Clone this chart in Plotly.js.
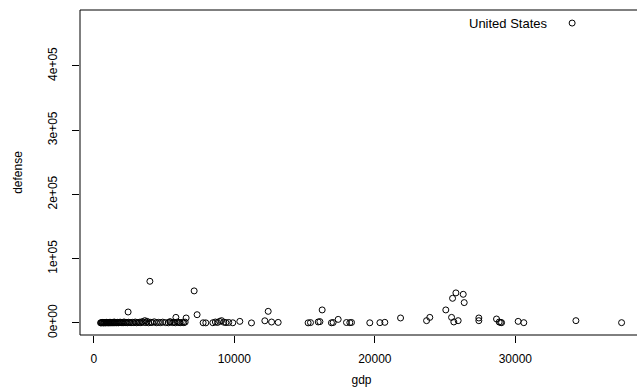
<!DOCTYPE html>
<html>
<head>
<meta charset="utf-8">
<script src="https://cdn.plot.ly/plotly-3.0.1.min.js"></script>
<style>
html,body{margin:0;padding:0;overflow:hidden;background:#fff;}
#chart{width:660px;height:388px;}
</style>
</head>
<body>
<div id="chart"></div>
<script>
// gdp per capita and defense spending
const gdp = [
  480,520,560,600,640,690,720,760,800,850,880,920,960,1010,1060,1100,1150,1200,1250,1300,
  1350,1400,1450,1500,1560,1620,1680,1740,1800,1870,1940,2000,2080,2150,2230,2300,2380,2460,2550,2650,2750,
  2440,3630,3990,7140,7350,5840,6570,5410,
  2850,2950,3050,3150,3250,3350,3450,3550,3700,3800,3900,4050,4150,4300,4450,4600,4750,4900,5100,5300,5450,
  5600,5700,5800,5950,6050,6150,6300,6400,6500,
  7780,7970,8470,8650,8800,8950,9090,9250,9400,9600,9890,10390,11220,12170,12410,12650,13120,
  15250,15420,15970,16090,16250,16910,17030,17390,17980,18220,18340,19640,20360,20710,21830,
  23680,23910,25050,25530,25770,26290,26360,25460,25620,25930,
  27400,27400,28660,28850,28950,29020,30200,30600,34310,37560,
  34040
];
const defense = [
  300,150,600,250,900,400,100,700,350,200,1100,500,300,800,150,450,1200,300,600,200,
  900,400,1500,250,700,350,1000,200,600,1300,400,800,300,1600,500,900,300,1200,700,400,1000,
  17100,3600,64850,49900,12900,8700,7800,2000,
  500,1500,300,800,1200,400,2200,900,600,2500,300,1100,700,1800,400,1000,500,1300,600,300,1500,
  600,1200,300,1500,800,400,1000,500,1300,
  300,200,400,1500,800,2500,3600,1200,600,800,300,2500,100,3400,18100,1500,900,
  200,600,1600,2100,20300,300,700,5600,700,500,800,300,500,1000,7800,
  3600,8700,20300,38400,46800,44600,31700,8700,1600,3600,
  7800,3600,6200,1500,800,500,2500,500,3600,500,
  466600
];
const labelName = "United States";
const labelIndex = gdp.length - 1;
const xTicks = [0, 10000, 20000, 30000];
const xTickText = ["0", "10000", "20000", "30000"];
const yTicks = [0, 100000, 200000, 300000, 400000];
const yTickText = ["0e+00", "1e+05", "2e+05", "3e+05", "4e+05"];

const font = {family: "Liberation Sans, Arial, Helvetica, sans-serif", size: 12, color: "#000"};
const labelFont = {family: "Liberation Sans, Arial, Helvetica, sans-serif", size: 13, color: "#000"};

const trace = {
  x: gdp, y: defense, type: "scatter", mode: "markers",
  marker: {symbol: "circle-open", size: 6, color: "#000", line: {width: 1, color: "#000"}},
  hoverinfo: "x+y"
};

const layout = {
  width: 660, height: 388,
  margin: {l: 80, r: 17, t: 10, b: 53},
  paper_bgcolor: "#fff", plot_bgcolor: "#fff",
  font: font,
  showlegend: false,
  xaxis: {
    range: [-984, 39084], tickvals: xTicks, ticktext: xTickText,
    ticks: "outside", ticklen: 7, tickcolor: "#000", tickwidth: 1,
    showgrid: false, zeroline: false, showline: false,
    tickfont: font, ticklabelstandoff: 6,
    title: {text: "gdp", font: font, standoff: 10}
  },
  yaxis: {
    range: [-18700, 486900], tickvals: yTicks, ticktext: yTickText,
    ticks: "outside", ticklen: 7, tickcolor: "#000", tickwidth: 1,
    tickangle: -90, showgrid: false, zeroline: false, showline: false,
    tickfont: font, ticklabelstandoff: 10,
    title: {text: "defense", font: font, standoff: 21}
  },
  shapes: [
    {type: "rect", xref: "paper", yref: "paper", x0: 0, x1: 1, y0: 0, y1: 1,
     line: {color: "#000", width: 1}}
  ],
  annotations: [
    {x: gdp[labelIndex], y: defense[labelIndex], xref: "x", yref: "y",
     text: labelName, showarrow: false, xanchor: "right", yanchor: "middle",
     xshift: -22, font: labelFont}
  ]
};

Plotly.newPlot("chart", [trace], layout, {staticPlot: true, displayModeBar: false});
</script>
</body>
</html>
